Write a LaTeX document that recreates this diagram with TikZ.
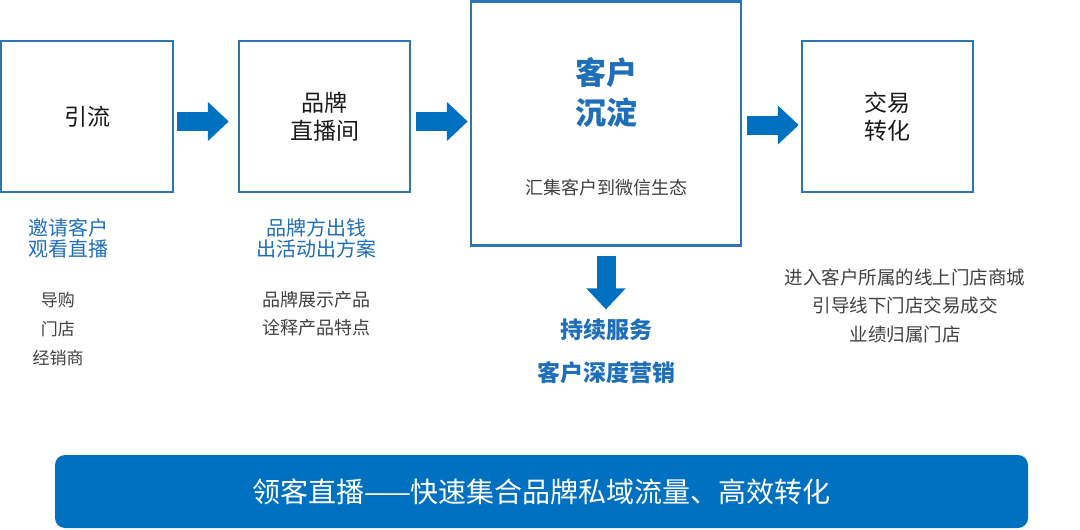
\documentclass[tikz,border=0pt]{standalone}
\usepackage{fontspec}
\setmainfont{Noto Sans CJK SC}
\usepackage{tikz}
\usetikzlibrary{arrows.meta}
\definecolor{barblue}{RGB}{0,112,192}
\definecolor{lineblue}{RGB}{46,117,182}
\definecolor{txtblue}{RGB}{31,110,186}
\definecolor{txtgray}{RGB}{64,64,64}
\begin{document}
\begin{tikzpicture}[x=1pt,y=-1pt,
    box/.style={draw=lineblue, line width=2.5pt, inner sep=0pt, align=center,
      text=black!90, font=\fontsize{23}{28}\selectfont},
    bigarrow/.style={draw=barblue, line width=19pt, -{Triangle[length=21pt,width=38pt]}},
    bluetxt/.style={text=txtblue, align=center, font=\fontsize{20}{21.5}\selectfont},
    graytxt/.style={text=txtgray, align=center}]
     \useasboundingbox (0,0) rectangle (1080,530);
     % four steps
     \node [box, minimum width=172pt, minimum height=151pt] (yl) at (87,116.5) {引流};
     \node [box, minimum width=171pt, minimum height=151pt] (zbj) at (324.5,116.5) {品牌\\直播间};
     \node [box, minimum width=270pt, minimum height=244pt] (cd) at (606,123.5) {};
     \node [box, minimum width=171pt, minimum height=151pt] (jy) at (887.5,116.5) {交易\\转化};
     \node [text=txtblue, align=center, font=\fontsize{31}{40}\selectfont\bfseries] (khcd) at (606,93) {客户\\沉淀};
     \node [graytxt, font=\fontsize{18}{20}\selectfont] (hj) at (606,188) {汇集客户到微信生态};
     % arrows
     \draw [bigarrow, shorten <=3pt, shorten >=9pt] ([yshift=-5pt]yl.east) -- ([yshift=-5pt]zbj.west);
     \draw [bigarrow, shorten <=5pt, shorten >=2pt] ([yshift=-5pt]zbj.east) -- ([yshift=-5pt]zbj.east -| cd.west);
     \draw [bigarrow, shorten <=5pt, shorten >=2pt] ([yshift=-1.5pt]cd.east) -- ([yshift=-1.5pt]cd.east -| jy.west);
     % texts below
     \node [bluetxt] (yq) at (68,238.5) {邀请客户\\观看直播};
     \node [graytxt, font=\fontsize{17}{29}\selectfont] (dg) at (58,329) {导购\\门店\\经销商};
     \node [bluetxt] (pp) at (316,238.5) {品牌方出钱\\出活动出方案};
     \node [graytxt, font=\fontsize{18}{28}\selectfont] (zs) at (316,314) {品牌展示产品\\诠释产品特点};
     \node [text=txtblue, align=center, font=\fontsize{23}{43}\selectfont\bfseries] (fw) at (606,351.5) {持续服务\\客户深度营销};
     \node [graytxt, font=\fontsize{18.5}{28.5}\selectfont] (jr) at (905,305.5) {进入客户所属的线上门店商城\\引导线下门店交易成交\\业绩归属门店};
     \draw [bigarrow, shorten <=9pt, shorten >=6pt] (cd.south) -- (fw.north);
     % bottom bar
     \node [fill=barblue, rounded corners=10pt, minimum width=973pt, minimum height=73pt,
       text=white, font=\fontsize{28}{30}\selectfont] (bar) at (541.5,491.5) {领客直播——快速集合品牌私域流量、高效转化};
 \end{tikzpicture}
\end{document}
